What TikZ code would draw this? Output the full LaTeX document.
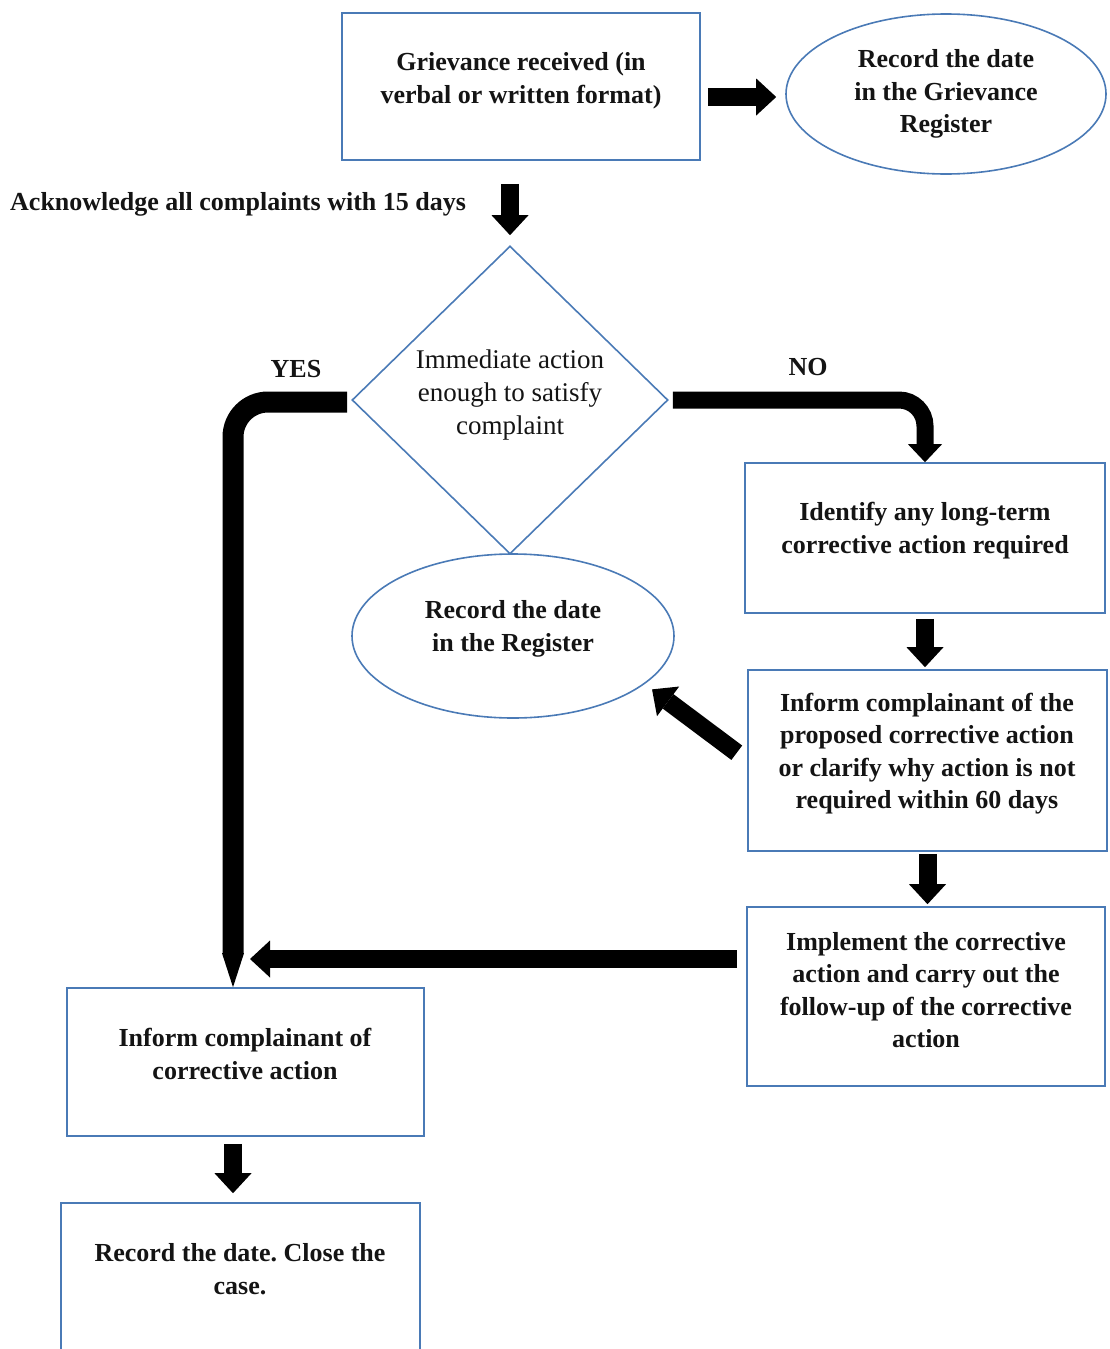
\documentclass[tikz,border=0pt]{standalone}
\usepackage{fontspec}
\setmainfont{Liberation Serif}
\usetikzlibrary{arrows.meta,shapes.geometric}
\definecolor{bordc}{RGB}{74,122,182}
\frenchspacing
\begin{document}
\begin{tikzpicture}[x=1pt,y=-1pt,
  shp/.style={draw=bordc, line width=1.6pt, inner sep=0pt},
  txt/.style={font=\fontsize{26}{32.5}\selectfont\bfseries, align=center, inner sep=0pt, text=black!92},
  rtxt/.style={font=\fontsize{27}{33}\selectfont, align=center, inner sep=0pt, text=black!92},
  blk/.style={draw=black, line width=18pt, -{Triangle[width=37pt,length=20pt,line width=0pt]}},
  blkyes/.style={draw=black, line width=21pt, rounded corners=35pt, -{Triangle[width=22pt,length=34pt,line width=0pt]}},
  blkno/.style={draw=black, line width=17pt, rounded corners=26pt, -{Triangle[width=34pt,length=18pt,line width=0pt]}},
]
\useasboundingbox (0,0) rectangle (1109,1349);
\clip (0,0) rectangle (1109,1349);

% shapes
\node[shp, minimum width=358pt, minimum height=147pt] (g1) at (521,86.5) {};
\node[shp, ellipse, minimum width=320pt, minimum height=160pt] (e1) at (946,94) {};
\node[shp, diamond, minimum width=316pt, minimum height=308pt] (dia) at (510,400) {};
\node[shp, minimum width=360pt, minimum height=150pt] (iden) at (925,538) {};
\node[shp, ellipse, minimum width=322pt, minimum height=164pt] (reg) at (513,636) {};
\node[shp, minimum width=359pt, minimum height=181pt] (inf2) at (927.5,760.5) {};
\node[shp, minimum width=358pt, minimum height=179pt] (imp) at (926,996.5) {};
\node[shp, minimum width=357pt, minimum height=148pt] (inf) at (245.5,1062) {};
\node[shp, minimum width=359pt, minimum height=162pt] (rec) at (240.5,1284) {};

% texts
\node[txt] (g1t) at (521,80.5) {Grievance received (in\\verbal or written format)};
\node[txt] (e1t) at (946,94) {Record the date\\in the Grievance\\Register};
\node[txt, anchor=west] (ack) at (10,204) {Acknowledge all complaints with 15 days};
\node[rtxt] (diat) at (510,395) {Immediate action\\enough to satisfy\\complaint};
\node[txt] (yes) at (296,369) {YES};
\node[txt] (no) at (808,367) {NO};
\node[txt] (ident) at (925,530.5) {Identify any long-term\\corrective action required};
\node[txt] (regt) at (513,629) {Record the date\\in the Register};
\node[txt] (inf2t) at (927,753.5) {Inform complainant of the\\proposed corrective action\\or clarify why action is not\\required within 60 days};
\node[txt] (impt) at (926,990) {Implement the corrective\\action and carry out the\\follow-up of the corrective\\action};
\node[txt] (inft) at (245,1054) {Inform complainant of\\corrective action};
\node[txt] (rect) at (240,1269) {Record the date. Close the\\case.};

\coordinate (join) at (250,959);

% connectors
\draw[blk, shorten <=7pt, shorten >=9pt] ([yshift=-3pt]g1.east |- e1.west) -- ([yshift=-3pt]e1.west);
\draw[blk, shorten <=23pt, shorten >=10pt] (dia.north |- g1.south) -- (dia.north);
\draw[blkyes, shorten <=4pt] ([yshift=-2pt]dia.west) -| ([xshift=-12.5pt]inf.north);
\draw[blkno, shorten <=4pt] (dia.east) -| (iden.north);
\draw[blk, shorten <=5pt, shorten >=2pt] (iden.south) -- (iden.south |- inf2.north);
\draw[blk, shorten <=13pt, shorten >=9pt] (inf2.west) -- (reg.-20);
\draw[blk, shorten <=2pt, shorten >=2pt] (inf2.south) -- (inf2.south |- imp.north);
\draw[blk, shorten <=9pt] (join -| imp.west) -- (join);
\draw[blk, shorten <=7pt, shorten >=9pt] ([xshift=-12.5pt]inf.south) -- ([xshift=-12.5pt]inf.south |- rec.north);
\end{tikzpicture}
\end{document}
